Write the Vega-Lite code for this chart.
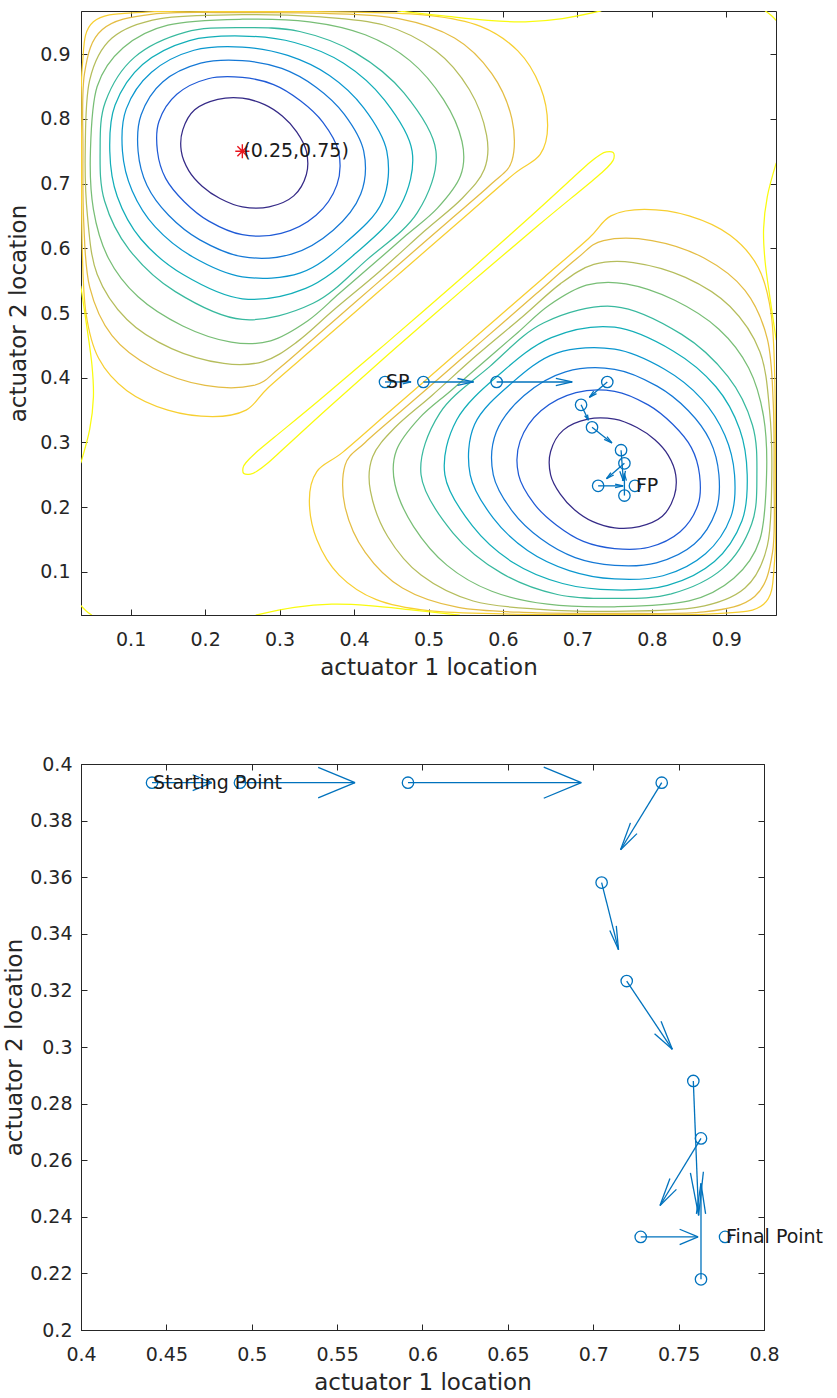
{
  "$schema": "https://vega.github.io/schema/vega-lite/v6.json",
  "background": "white",
  "padding": {"left": 3, "top": 10, "right": 0, "bottom": 0},
  "spacing": 74,
  "config": {
    "font": "DejaVu Sans",
    "view": {"stroke": "#262626", "strokeWidth": 1},
    "axis": {
      "grid": false, "domainColor": "#262626", "tickColor": "#262626",
      "labelColor": "#262626", "titleColor": "#262626",
      "labelFont": "DejaVu Sans", "titleFont": "DejaVu Sans",
      "labelFontSize": 19, "titleFontSize": 23, "titleFontWeight": "normal",
      "tickSize": -6, "labelFlush": false, "labelOverlap": false
    },
    "axisBottom": {"labelPadding": 21, "titlePadding": 7},
    "axisLeft": {"labelPadding": 17, "titlePadding": 9}
  },
  "datasets": {
    "closed": [
      {"id":"a1","l":1,"k":0,"x":0.186,"y":0.814},{"id":"a1","l":1,"k":1,"x":0.217,"y":0.830},{"id":"a1","l":1,"k":2,"x":0.250,"y":0.832},{"id":"a1","l":1,"k":3,"x":0.280,"y":0.822},{"id":"a1","l":1,"k":4,"x":0.304,"y":0.804},{"id":"a1","l":1,"k":5,"x":0.323,"y":0.780},{"id":"a1","l":1,"k":6,"x":0.336,"y":0.750},{"id":"a1","l":1,"k":7,"x":0.336,"y":0.714},{"id":"a1","l":1,"k":8,"x":0.319,"y":0.681},{"id":"a1","l":1,"k":9,"x":0.286,"y":0.664},{"id":"a1","l":1,"k":10,"x":0.250,"y":0.664},{"id":"a1","l":1,"k":11,"x":0.220,"y":0.677},{"id":"a1","l":1,"k":12,"x":0.196,"y":0.696},{"id":"a1","l":1,"k":13,"x":0.178,"y":0.720},{"id":"a1","l":1,"k":14,"x":0.168,"y":0.750},{"id":"a1","l":1,"k":15,"x":0.170,"y":0.783},
      {"id":"b1","l":1,"k":0,"x":0.814,"y":0.186},{"id":"b1","l":1,"k":1,"x":0.783,"y":0.170},{"id":"b1","l":1,"k":2,"x":0.750,"y":0.168},{"id":"b1","l":1,"k":3,"x":0.720,"y":0.178},{"id":"b1","l":1,"k":4,"x":0.696,"y":0.196},{"id":"b1","l":1,"k":5,"x":0.677,"y":0.220},{"id":"b1","l":1,"k":6,"x":0.664,"y":0.250},{"id":"b1","l":1,"k":7,"x":0.664,"y":0.286},{"id":"b1","l":1,"k":8,"x":0.681,"y":0.319},{"id":"b1","l":1,"k":9,"x":0.714,"y":0.336},{"id":"b1","l":1,"k":10,"x":0.750,"y":0.336},{"id":"b1","l":1,"k":11,"x":0.780,"y":0.323},{"id":"b1","l":1,"k":12,"x":0.804,"y":0.304},{"id":"b1","l":1,"k":13,"x":0.822,"y":0.280},{"id":"b1","l":1,"k":14,"x":0.832,"y":0.250},{"id":"b1","l":1,"k":15,"x":0.830,"y":0.217},
      {"id":"a2","l":2,"k":0,"x":0.162,"y":0.838},{"id":"a2","l":2,"k":1,"x":0.204,"y":0.862},{"id":"a2","l":2,"k":2,"x":0.250,"y":0.864},{"id":"a2","l":2,"k":3,"x":0.292,"y":0.853},{"id":"a2","l":2,"k":4,"x":0.328,"y":0.828},{"id":"a2","l":2,"k":5,"x":0.358,"y":0.795},{"id":"a2","l":2,"k":6,"x":0.379,"y":0.750},{"id":"a2","l":2,"k":7,"x":0.377,"y":0.698},{"id":"a2","l":2,"k":8,"x":0.349,"y":0.651},{"id":"a2","l":2,"k":9,"x":0.302,"y":0.623},{"id":"a2","l":2,"k":10,"x":0.250,"y":0.621},{"id":"a2","l":2,"k":11,"x":0.205,"y":0.642},{"id":"a2","l":2,"k":12,"x":0.172,"y":0.672},{"id":"a2","l":2,"k":13,"x":0.147,"y":0.708},{"id":"a2","l":2,"k":14,"x":0.136,"y":0.750},{"id":"a2","l":2,"k":15,"x":0.138,"y":0.796},
      {"id":"b2","l":2,"k":0,"x":0.838,"y":0.162},{"id":"b2","l":2,"k":1,"x":0.796,"y":0.138},{"id":"b2","l":2,"k":2,"x":0.750,"y":0.136},{"id":"b2","l":2,"k":3,"x":0.708,"y":0.147},{"id":"b2","l":2,"k":4,"x":0.672,"y":0.172},{"id":"b2","l":2,"k":5,"x":0.642,"y":0.205},{"id":"b2","l":2,"k":6,"x":0.621,"y":0.250},{"id":"b2","l":2,"k":7,"x":0.623,"y":0.302},{"id":"b2","l":2,"k":8,"x":0.651,"y":0.349},{"id":"b2","l":2,"k":9,"x":0.698,"y":0.377},{"id":"b2","l":2,"k":10,"x":0.750,"y":0.379},{"id":"b2","l":2,"k":11,"x":0.795,"y":0.358},{"id":"b2","l":2,"k":12,"x":0.828,"y":0.328},{"id":"b2","l":2,"k":13,"x":0.853,"y":0.292},{"id":"b2","l":2,"k":14,"x":0.864,"y":0.250},{"id":"b2","l":2,"k":15,"x":0.862,"y":0.204},
      {"id":"a3","l":3,"k":0,"x":0.143,"y":0.857},{"id":"a3","l":3,"k":1,"x":0.194,"y":0.886},{"id":"a3","l":3,"k":2,"x":0.250,"y":0.890},{"id":"a3","l":3,"k":3,"x":0.303,"y":0.878},{"id":"a3","l":3,"k":4,"x":0.349,"y":0.849},{"id":"a3","l":3,"k":5,"x":0.387,"y":0.807},{"id":"a3","l":3,"k":6,"x":0.413,"y":0.750},{"id":"a3","l":3,"k":7,"x":0.409,"y":0.684},{"id":"a3","l":3,"k":8,"x":0.372,"y":0.628},{"id":"a3","l":3,"k":9,"x":0.316,"y":0.591},{"id":"a3","l":3,"k":10,"x":0.250,"y":0.587},{"id":"a3","l":3,"k":11,"x":0.193,"y":0.613},{"id":"a3","l":3,"k":12,"x":0.151,"y":0.651},{"id":"a3","l":3,"k":13,"x":0.122,"y":0.697},{"id":"a3","l":3,"k":14,"x":0.110,"y":0.750},{"id":"a3","l":3,"k":15,"x":0.114,"y":0.806},
      {"id":"b3","l":3,"k":0,"x":0.857,"y":0.143},{"id":"b3","l":3,"k":1,"x":0.806,"y":0.114},{"id":"b3","l":3,"k":2,"x":0.750,"y":0.110},{"id":"b3","l":3,"k":3,"x":0.697,"y":0.122},{"id":"b3","l":3,"k":4,"x":0.651,"y":0.151},{"id":"b3","l":3,"k":5,"x":0.613,"y":0.193},{"id":"b3","l":3,"k":6,"x":0.587,"y":0.250},{"id":"b3","l":3,"k":7,"x":0.591,"y":0.316},{"id":"b3","l":3,"k":8,"x":0.628,"y":0.372},{"id":"b3","l":3,"k":9,"x":0.684,"y":0.409},{"id":"b3","l":3,"k":10,"x":0.750,"y":0.413},{"id":"b3","l":3,"k":11,"x":0.807,"y":0.387},{"id":"b3","l":3,"k":12,"x":0.849,"y":0.349},{"id":"b3","l":3,"k":13,"x":0.878,"y":0.303},{"id":"b3","l":3,"k":14,"x":0.890,"y":0.250},{"id":"b3","l":3,"k":15,"x":0.886,"y":0.194},
      {"id":"a4","l":4,"k":0,"x":0.128,"y":0.872},{"id":"a4","l":4,"k":1,"x":0.185,"y":0.906},{"id":"a4","l":4,"k":2,"x":0.250,"y":0.911},{"id":"a4","l":4,"k":3,"x":0.311,"y":0.898},{"id":"a4","l":4,"k":4,"x":0.367,"y":0.867},{"id":"a4","l":4,"k":5,"x":0.413,"y":0.817},{"id":"a4","l":4,"k":6,"x":0.444,"y":0.750},{"id":"a4","l":4,"k":7,"x":0.438,"y":0.672},{"id":"a4","l":4,"k":8,"x":0.390,"y":0.610},{"id":"a4","l":4,"k":9,"x":0.328,"y":0.562},{"id":"a4","l":4,"k":10,"x":0.250,"y":0.556},{"id":"a4","l":4,"k":11,"x":0.183,"y":0.587},{"id":"a4","l":4,"k":12,"x":0.133,"y":0.633},{"id":"a4","l":4,"k":13,"x":0.102,"y":0.689},{"id":"a4","l":4,"k":14,"x":0.089,"y":0.750},{"id":"a4","l":4,"k":15,"x":0.094,"y":0.815},
      {"id":"b4","l":4,"k":0,"x":0.872,"y":0.128},{"id":"b4","l":4,"k":1,"x":0.815,"y":0.094},{"id":"b4","l":4,"k":2,"x":0.750,"y":0.089},{"id":"b4","l":4,"k":3,"x":0.689,"y":0.102},{"id":"b4","l":4,"k":4,"x":0.633,"y":0.133},{"id":"b4","l":4,"k":5,"x":0.587,"y":0.183},{"id":"b4","l":4,"k":6,"x":0.556,"y":0.250},{"id":"b4","l":4,"k":7,"x":0.562,"y":0.328},{"id":"b4","l":4,"k":8,"x":0.610,"y":0.390},{"id":"b4","l":4,"k":9,"x":0.672,"y":0.438},{"id":"b4","l":4,"k":10,"x":0.750,"y":0.444},{"id":"b4","l":4,"k":11,"x":0.817,"y":0.413},{"id":"b4","l":4,"k":12,"x":0.867,"y":0.367},{"id":"b4","l":4,"k":13,"x":0.898,"y":0.311},{"id":"b4","l":4,"k":14,"x":0.911,"y":0.250},{"id":"b4","l":4,"k":15,"x":0.906,"y":0.185},
      {"id":"a5","l":5,"k":0,"x":0.116,"y":0.884},{"id":"a5","l":5,"k":1,"x":0.179,"y":0.921},{"id":"a5","l":5,"k":2,"x":0.250,"y":0.928},{"id":"a5","l":5,"k":3,"x":0.320,"y":0.918},{"id":"a5","l":5,"k":4,"x":0.386,"y":0.886},{"id":"a5","l":5,"k":5,"x":0.441,"y":0.829},{"id":"a5","l":5,"k":6,"x":0.478,"y":0.750},{"id":"a5","l":5,"k":7,"x":0.462,"y":0.665},{"id":"a5","l":5,"k":8,"x":0.405,"y":0.595},{"id":"a5","l":5,"k":9,"x":0.335,"y":0.538},{"id":"a5","l":5,"k":10,"x":0.250,"y":0.522},{"id":"a5","l":5,"k":11,"x":0.171,"y":0.559},{"id":"a5","l":5,"k":12,"x":0.114,"y":0.614},{"id":"a5","l":5,"k":13,"x":0.082,"y":0.680},{"id":"a5","l":5,"k":14,"x":0.072,"y":0.750},{"id":"a5","l":5,"k":15,"x":0.079,"y":0.821},
      {"id":"b5","l":5,"k":0,"x":0.884,"y":0.116},{"id":"b5","l":5,"k":1,"x":0.821,"y":0.079},{"id":"b5","l":5,"k":2,"x":0.750,"y":0.072},{"id":"b5","l":5,"k":3,"x":0.680,"y":0.082},{"id":"b5","l":5,"k":4,"x":0.614,"y":0.114},{"id":"b5","l":5,"k":5,"x":0.559,"y":0.171},{"id":"b5","l":5,"k":6,"x":0.522,"y":0.250},{"id":"b5","l":5,"k":7,"x":0.538,"y":0.335},{"id":"b5","l":5,"k":8,"x":0.595,"y":0.405},{"id":"b5","l":5,"k":9,"x":0.665,"y":0.462},{"id":"b5","l":5,"k":10,"x":0.750,"y":0.478},{"id":"b5","l":5,"k":11,"x":0.829,"y":0.441},{"id":"b5","l":5,"k":12,"x":0.886,"y":0.386},{"id":"b5","l":5,"k":13,"x":0.918,"y":0.320},{"id":"b5","l":5,"k":14,"x":0.928,"y":0.250},{"id":"b5","l":5,"k":15,"x":0.921,"y":0.179},
      {"id":"a6","l":6,"k":0,"x":0.105,"y":0.895},{"id":"a6","l":6,"k":1,"x":0.174,"y":0.934},{"id":"a6","l":6,"k":2,"x":0.250,"y":0.941},{"id":"a6","l":6,"k":3,"x":0.327,"y":0.935},{"id":"a6","l":6,"k":4,"x":0.402,"y":0.902},{"id":"a6","l":6,"k":5,"x":0.467,"y":0.840},{"id":"a6","l":6,"k":6,"x":0.510,"y":0.750},{"id":"a6","l":6,"k":7,"x":0.485,"y":0.655},{"id":"a6","l":6,"k":8,"x":0.4175,"y":0.5825},{"id":"a6","l":6,"k":9,"x":0.345,"y":0.515},{"id":"a6","l":6,"k":10,"x":0.250,"y":0.490},{"id":"a6","l":6,"k":11,"x":0.160,"y":0.533},{"id":"a6","l":6,"k":12,"x":0.098,"y":0.598},{"id":"a6","l":6,"k":13,"x":0.065,"y":0.673},{"id":"a6","l":6,"k":14,"x":0.059,"y":0.750},{"id":"a6","l":6,"k":15,"x":0.066,"y":0.826},
      {"id":"b6","l":6,"k":0,"x":0.895,"y":0.105},{"id":"b6","l":6,"k":1,"x":0.826,"y":0.066},{"id":"b6","l":6,"k":2,"x":0.750,"y":0.059},{"id":"b6","l":6,"k":3,"x":0.673,"y":0.065},{"id":"b6","l":6,"k":4,"x":0.598,"y":0.098},{"id":"b6","l":6,"k":5,"x":0.533,"y":0.160},{"id":"b6","l":6,"k":6,"x":0.490,"y":0.250},{"id":"b6","l":6,"k":7,"x":0.515,"y":0.345},{"id":"b6","l":6,"k":8,"x":0.5825,"y":0.4175},{"id":"b6","l":6,"k":9,"x":0.655,"y":0.485},{"id":"b6","l":6,"k":10,"x":0.750,"y":0.510},{"id":"b6","l":6,"k":11,"x":0.840,"y":0.467},{"id":"b6","l":6,"k":12,"x":0.902,"y":0.402},{"id":"b6","l":6,"k":13,"x":0.935,"y":0.327},{"id":"b6","l":6,"k":14,"x":0.941,"y":0.250},{"id":"b6","l":6,"k":15,"x":0.934,"y":0.174},
      {"id":"a7","l":7,"k":0,"x":0.090,"y":0.910},{"id":"a7","l":7,"k":1,"x":0.150,"y":0.945},{"id":"a7","l":7,"k":2,"x":0.250,"y":0.954},{"id":"a7","l":7,"k":3,"x":0.340,"y":0.950},{"id":"a7","l":7,"k":4,"x":0.415,"y":0.930},{"id":"a7","l":7,"k":5,"x":0.475,"y":0.890},{"id":"a7","l":7,"k":6,"x":0.520,"y":0.830},{"id":"a7","l":7,"k":7,"x":0.545,"y":0.765},{"id":"a7","l":7,"k":8,"x":0.543,"y":0.712},{"id":"a7","l":7,"k":9,"x":0.512,"y":0.662},{"id":"a7","l":7,"k":10,"x":0.470,"y":0.620},{"id":"a7","l":7,"k":11,"x":0.425,"y":0.575},{"id":"a7","l":7,"k":12,"x":0.380,"y":0.530},{"id":"a7","l":7,"k":13,"x":0.338,"y":0.488},{"id":"a7","l":7,"k":14,"x":0.288,"y":0.457},{"id":"a7","l":7,"k":15,"x":0.235,"y":0.455},{"id":"a7","l":7,"k":16,"x":0.170,"y":0.480},{"id":"a7","l":7,"k":17,"x":0.110,"y":0.525},{"id":"a7","l":7,"k":18,"x":0.070,"y":0.585},{"id":"a7","l":7,"k":19,"x":0.050,"y":0.660},{"id":"a7","l":7,"k":20,"x":0.046,"y":0.750},{"id":"a7","l":7,"k":21,"x":0.055,"y":0.850},
      {"id":"b7","l":7,"k":0,"x":0.910,"y":0.090},{"id":"b7","l":7,"k":1,"x":0.850,"y":0.055},{"id":"b7","l":7,"k":2,"x":0.750,"y":0.046},{"id":"b7","l":7,"k":3,"x":0.660,"y":0.050},{"id":"b7","l":7,"k":4,"x":0.585,"y":0.070},{"id":"b7","l":7,"k":5,"x":0.525,"y":0.110},{"id":"b7","l":7,"k":6,"x":0.480,"y":0.170},{"id":"b7","l":7,"k":7,"x":0.455,"y":0.235},{"id":"b7","l":7,"k":8,"x":0.457,"y":0.288},{"id":"b7","l":7,"k":9,"x":0.488,"y":0.338},{"id":"b7","l":7,"k":10,"x":0.530,"y":0.380},{"id":"b7","l":7,"k":11,"x":0.575,"y":0.425},{"id":"b7","l":7,"k":12,"x":0.620,"y":0.470},{"id":"b7","l":7,"k":13,"x":0.662,"y":0.512},{"id":"b7","l":7,"k":14,"x":0.712,"y":0.543},{"id":"b7","l":7,"k":15,"x":0.765,"y":0.545},{"id":"b7","l":7,"k":16,"x":0.830,"y":0.520},{"id":"b7","l":7,"k":17,"x":0.890,"y":0.475},{"id":"b7","l":7,"k":18,"x":0.930,"y":0.415},{"id":"b7","l":7,"k":19,"x":0.950,"y":0.340},{"id":"b7","l":7,"k":20,"x":0.954,"y":0.250},{"id":"b7","l":7,"k":21,"x":0.945,"y":0.150},
      {"id":"a8","l":8,"k":0,"x":0.075,"y":0.925},{"id":"a8","l":8,"k":1,"x":0.140,"y":0.955},{"id":"a8","l":8,"k":2,"x":0.250,"y":0.961},{"id":"a8","l":8,"k":3,"x":0.350,"y":0.958},{"id":"a8","l":8,"k":4,"x":0.440,"y":0.945},{"id":"a8","l":8,"k":5,"x":0.510,"y":0.905},{"id":"a8","l":8,"k":6,"x":0.555,"y":0.845},{"id":"a8","l":8,"k":7,"x":0.578,"y":0.775},{"id":"a8","l":8,"k":8,"x":0.575,"y":0.722},{"id":"a8","l":8,"k":9,"x":0.545,"y":0.677},{"id":"a8","l":8,"k":10,"x":0.495,"y":0.627},{"id":"a8","l":8,"k":11,"x":0.435,"y":0.565},{"id":"a8","l":8,"k":12,"x":0.373,"y":0.505},{"id":"a8","l":8,"k":13,"x":0.323,"y":0.455},{"id":"a8","l":8,"k":14,"x":0.278,"y":0.425},{"id":"a8","l":8,"k":15,"x":0.225,"y":0.422},{"id":"a8","l":8,"k":16,"x":0.155,"y":0.445},{"id":"a8","l":8,"k":17,"x":0.095,"y":0.490},{"id":"a8","l":8,"k":18,"x":0.055,"y":0.560},{"id":"a8","l":8,"k":19,"x":0.042,"y":0.650},{"id":"a8","l":8,"k":20,"x":0.039,"y":0.750},{"id":"a8","l":8,"k":21,"x":0.045,"y":0.860},
      {"id":"b8","l":8,"k":0,"x":0.925,"y":0.075},{"id":"b8","l":8,"k":1,"x":0.860,"y":0.045},{"id":"b8","l":8,"k":2,"x":0.750,"y":0.039},{"id":"b8","l":8,"k":3,"x":0.650,"y":0.042},{"id":"b8","l":8,"k":4,"x":0.560,"y":0.055},{"id":"b8","l":8,"k":5,"x":0.490,"y":0.095},{"id":"b8","l":8,"k":6,"x":0.445,"y":0.155},{"id":"b8","l":8,"k":7,"x":0.422,"y":0.225},{"id":"b8","l":8,"k":8,"x":0.425,"y":0.278},{"id":"b8","l":8,"k":9,"x":0.455,"y":0.323},{"id":"b8","l":8,"k":10,"x":0.505,"y":0.373},{"id":"b8","l":8,"k":11,"x":0.565,"y":0.435},{"id":"b8","l":8,"k":12,"x":0.627,"y":0.495},{"id":"b8","l":8,"k":13,"x":0.677,"y":0.545},{"id":"b8","l":8,"k":14,"x":0.722,"y":0.575},{"id":"b8","l":8,"k":15,"x":0.775,"y":0.578},{"id":"b8","l":8,"k":16,"x":0.845,"y":0.555},{"id":"b8","l":8,"k":17,"x":0.905,"y":0.510},{"id":"b8","l":8,"k":18,"x":0.945,"y":0.440},{"id":"b8","l":8,"k":19,"x":0.958,"y":0.350},{"id":"b8","l":8,"k":20,"x":0.961,"y":0.250},{"id":"b8","l":8,"k":21,"x":0.955,"y":0.140},
      {"id":"a9","l":9,"k":0,"x":0.062,"y":0.938},{"id":"a9","l":9,"k":1,"x":0.130,"y":0.962},{"id":"a9","l":9,"k":2,"x":0.250,"y":0.964},{"id":"a9","l":9,"k":3,"x":0.360,"y":0.963},{"id":"a9","l":9,"k":4,"x":0.460,"y":0.955},{"id":"a9","l":9,"k":5,"x":0.535,"y":0.925},{"id":"a9","l":9,"k":6,"x":0.585,"y":0.870},{"id":"a9","l":9,"k":7,"x":0.612,"y":0.800},{"id":"a9","l":9,"k":8,"x":0.612,"y":0.735},{"id":"a9","l":9,"k":9,"x":0.585,"y":0.700},{"id":"a9","l":9,"k":10,"x":0.530,"y":0.645},{"id":"a9","l":9,"k":11,"x":0.485,"y":0.600},{"id":"a9","l":9,"k":12,"x":0.4425,"y":0.5575},{"id":"a9","l":9,"k":13,"x":0.400,"y":0.515},{"id":"a9","l":9,"k":14,"x":0.355,"y":0.470},{"id":"a9","l":9,"k":15,"x":0.300,"y":0.415},{"id":"a9","l":9,"k":16,"x":0.265,"y":0.388},{"id":"a9","l":9,"k":17,"x":0.200,"y":0.388},{"id":"a9","l":9,"k":18,"x":0.130,"y":0.415},{"id":"a9","l":9,"k":19,"x":0.075,"y":0.465},{"id":"a9","l":9,"k":20,"x":0.045,"y":0.540},{"id":"a9","l":9,"k":21,"x":0.037,"y":0.640},{"id":"a9","l":9,"k":22,"x":0.036,"y":0.750},{"id":"a9","l":9,"k":23,"x":0.038,"y":0.870},
      {"id":"b9","l":9,"k":0,"x":0.938,"y":0.062},{"id":"b9","l":9,"k":1,"x":0.870,"y":0.038},{"id":"b9","l":9,"k":2,"x":0.750,"y":0.036},{"id":"b9","l":9,"k":3,"x":0.640,"y":0.037},{"id":"b9","l":9,"k":4,"x":0.540,"y":0.045},{"id":"b9","l":9,"k":5,"x":0.465,"y":0.075},{"id":"b9","l":9,"k":6,"x":0.415,"y":0.130},{"id":"b9","l":9,"k":7,"x":0.388,"y":0.200},{"id":"b9","l":9,"k":8,"x":0.388,"y":0.265},{"id":"b9","l":9,"k":9,"x":0.415,"y":0.300},{"id":"b9","l":9,"k":10,"x":0.470,"y":0.355},{"id":"b9","l":9,"k":11,"x":0.515,"y":0.400},{"id":"b9","l":9,"k":12,"x":0.5575,"y":0.4425},{"id":"b9","l":9,"k":13,"x":0.600,"y":0.485},{"id":"b9","l":9,"k":14,"x":0.645,"y":0.530},{"id":"b9","l":9,"k":15,"x":0.700,"y":0.585},{"id":"b9","l":9,"k":16,"x":0.735,"y":0.612},{"id":"b9","l":9,"k":17,"x":0.800,"y":0.612},{"id":"b9","l":9,"k":18,"x":0.870,"y":0.585},{"id":"b9","l":9,"k":19,"x":0.925,"y":0.535},{"id":"b9","l":9,"k":20,"x":0.955,"y":0.460},{"id":"b9","l":9,"k":21,"x":0.963,"y":0.360},{"id":"b9","l":9,"k":22,"x":0.964,"y":0.250},{"id":"b9","l":9,"k":23,"x":0.962,"y":0.130},
      {"id":"a10","l":10,"k":0,"x":0.050,"y":0.950},{"id":"a10","l":10,"k":1,"x":0.120,"y":0.965},{"id":"a10","l":10,"k":2,"x":0.250,"y":0.966},{"id":"a10","l":10,"k":3,"x":0.400,"y":0.965},{"id":"a10","l":10,"k":4,"x":0.500,"y":0.960},{"id":"a10","l":10,"k":5,"x":0.570,"y":0.943},{"id":"a10","l":10,"k":6,"x":0.620,"y":0.905},{"id":"a10","l":10,"k":7,"x":0.650,"y":0.850},{"id":"a10","l":10,"k":8,"x":0.660,"y":0.790},{"id":"a10","l":10,"k":9,"x":0.650,"y":0.745},{"id":"a10","l":10,"k":10,"x":0.615,"y":0.715},{"id":"a10","l":10,"k":11,"x":0.555,"y":0.655},{"id":"a10","l":10,"k":12,"x":0.500,"y":0.600},{"id":"a10","l":10,"k":13,"x":0.450,"y":0.550},{"id":"a10","l":10,"k":14,"x":0.400,"y":0.500},{"id":"a10","l":10,"k":15,"x":0.345,"y":0.445},{"id":"a10","l":10,"k":16,"x":0.285,"y":0.385},{"id":"a10","l":10,"k":17,"x":0.255,"y":0.350},{"id":"a10","l":10,"k":18,"x":0.210,"y":0.340},{"id":"a10","l":10,"k":19,"x":0.150,"y":0.350},{"id":"a10","l":10,"k":20,"x":0.095,"y":0.380},{"id":"a10","l":10,"k":21,"x":0.057,"y":0.430},{"id":"a10","l":10,"k":22,"x":0.040,"y":0.500},{"id":"a10","l":10,"k":23,"x":0.035,"y":0.600},{"id":"a10","l":10,"k":24,"x":0.034,"y":0.750},{"id":"a10","l":10,"k":25,"x":0.035,"y":0.880},
      {"id":"b10","l":10,"k":0,"x":0.950,"y":0.050},{"id":"b10","l":10,"k":1,"x":0.880,"y":0.035},{"id":"b10","l":10,"k":2,"x":0.750,"y":0.034},{"id":"b10","l":10,"k":3,"x":0.600,"y":0.035},{"id":"b10","l":10,"k":4,"x":0.500,"y":0.040},{"id":"b10","l":10,"k":5,"x":0.430,"y":0.057},{"id":"b10","l":10,"k":6,"x":0.380,"y":0.095},{"id":"b10","l":10,"k":7,"x":0.350,"y":0.150},{"id":"b10","l":10,"k":8,"x":0.340,"y":0.210},{"id":"b10","l":10,"k":9,"x":0.350,"y":0.255},{"id":"b10","l":10,"k":10,"x":0.385,"y":0.285},{"id":"b10","l":10,"k":11,"x":0.445,"y":0.345},{"id":"b10","l":10,"k":12,"x":0.500,"y":0.400},{"id":"b10","l":10,"k":13,"x":0.550,"y":0.450},{"id":"b10","l":10,"k":14,"x":0.600,"y":0.500},{"id":"b10","l":10,"k":15,"x":0.655,"y":0.555},{"id":"b10","l":10,"k":16,"x":0.715,"y":0.615},{"id":"b10","l":10,"k":17,"x":0.745,"y":0.650},{"id":"b10","l":10,"k":18,"x":0.790,"y":0.660},{"id":"b10","l":10,"k":19,"x":0.850,"y":0.650},{"id":"b10","l":10,"k":20,"x":0.905,"y":0.620},{"id":"b10","l":10,"k":21,"x":0.943,"y":0.570},{"id":"b10","l":10,"k":22,"x":0.960,"y":0.500},{"id":"b10","l":10,"k":23,"x":0.965,"y":0.400},{"id":"b10","l":10,"k":24,"x":0.966,"y":0.250},{"id":"b10","l":10,"k":25,"x":0.965,"y":0.120},
      {"id":"tg","l":11,"k":0,"x":0.252,"y":0.252},{"id":"tg","l":11,"k":1,"x":0.251,"y":0.261},{"id":"tg","l":11,"k":2,"x":0.255,"y":0.269},{"id":"tg","l":11,"k":3,"x":0.267,"y":0.283},{"id":"tg","l":11,"k":4,"x":0.2925,"y":0.3075},{"id":"tg","l":11,"k":5,"x":0.354,"y":0.366},{"id":"tg","l":11,"k":6,"x":0.445,"y":0.455},{"id":"tg","l":11,"k":7,"x":0.545,"y":0.555},{"id":"tg","l":11,"k":8,"x":0.634,"y":0.646},{"id":"tg","l":11,"k":9,"x":0.6925,"y":0.7075},{"id":"tg","l":11,"k":10,"x":0.717,"y":0.733},{"id":"tg","l":11,"k":11,"x":0.731,"y":0.745},{"id":"tg","l":11,"k":12,"x":0.739,"y":0.749},{"id":"tg","l":11,"k":13,"x":0.748,"y":0.748},{"id":"tg","l":11,"k":14,"x":0.749,"y":0.739},{"id":"tg","l":11,"k":15,"x":0.745,"y":0.731},{"id":"tg","l":11,"k":16,"x":0.733,"y":0.717},{"id":"tg","l":11,"k":17,"x":0.7075,"y":0.6925},{"id":"tg","l":11,"k":18,"x":0.646,"y":0.634},{"id":"tg","l":11,"k":19,"x":0.555,"y":0.545},{"id":"tg","l":11,"k":20,"x":0.455,"y":0.445},{"id":"tg","l":11,"k":21,"x":0.366,"y":0.354},{"id":"tg","l":11,"k":22,"x":0.3075,"y":0.2925},{"id":"tg","l":11,"k":23,"x":0.283,"y":0.267},{"id":"tg","l":11,"k":24,"x":0.269,"y":0.255},{"id":"tg","l":11,"k":25,"x":0.261,"y":0.251}
    ],
    "open": [
      {"id":"o1","l":11,"k":0,"x":0.458,"y":0.967},{"id":"o1","l":11,"k":1,"x":0.520,"y":0.959},{"id":"o1","l":11,"k":2,"x":0.580,"y":0.952},{"id":"o1","l":11,"k":3,"x":0.630,"y":0.950},{"id":"o1","l":11,"k":4,"x":0.680,"y":0.955},{"id":"o1","l":11,"k":5,"x":0.732,"y":0.967},
      {"id":"o2","l":11,"k":0,"x":0.033,"y":0.542},{"id":"o2","l":11,"k":1,"x":0.041,"y":0.480},{"id":"o2","l":11,"k":2,"x":0.048,"y":0.420},{"id":"o2","l":11,"k":3,"x":0.050,"y":0.370},{"id":"o2","l":11,"k":4,"x":0.045,"y":0.320},{"id":"o2","l":11,"k":5,"x":0.033,"y":0.268},
      {"id":"o3","l":11,"k":0,"x":0.542,"y":0.033},{"id":"o3","l":11,"k":1,"x":0.480,"y":0.041},{"id":"o3","l":11,"k":2,"x":0.420,"y":0.048},{"id":"o3","l":11,"k":3,"x":0.370,"y":0.050},{"id":"o3","l":11,"k":4,"x":0.320,"y":0.045},{"id":"o3","l":11,"k":5,"x":0.268,"y":0.033},
      {"id":"o4","l":11,"k":0,"x":0.967,"y":0.458},{"id":"o4","l":11,"k":1,"x":0.959,"y":0.520},{"id":"o4","l":11,"k":2,"x":0.952,"y":0.580},{"id":"o4","l":11,"k":3,"x":0.950,"y":0.630},{"id":"o4","l":11,"k":4,"x":0.955,"y":0.680},{"id":"o4","l":11,"k":5,"x":0.967,"y":0.732},
      {"id":"o5","l":11,"k":0,"x":0.033,"y":0.048},{"id":"o5","l":11,"k":1,"x":0.040,"y":0.040},{"id":"o5","l":11,"k":2,"x":0.048,"y":0.033},
      {"id":"o6","l":11,"k":0,"x":0.967,"y":0.952},{"id":"o6","l":11,"k":1,"x":0.960,"y":0.960},{"id":"o6","l":11,"k":2,"x":0.952,"y":0.967}
    ],
    "path": [
      {"x":0.4416,"y":0.3934},{"x":0.4931,"y":0.3934},{"x":0.5915,"y":0.3934},{"x":0.7401,"y":0.3934},{"x":0.7049,"y":0.3581},{"x":0.7196,"y":0.3233},{"x":0.7586,"y":0.2880},{"x":0.7631,"y":0.2179},{"x":0.7631,"y":0.2677},{"x":0.7278,"y":0.2329},{"x":0.7772,"y":0.2329}
    ],
    "arrows": [
      {"x":0.4416,"y":0.3934,"x2":0.4766,"y2":0.3934},
      {"x":0.4931,"y":0.3934,"x2":0.5605,"y2":0.3934},
      {"x":0.5915,"y":0.3934,"x2":0.6930,"y2":0.3934},
      {"x":0.7401,"y":0.3934,"x2":0.7160,"y2":0.3697},
      {"x":0.7049,"y":0.3581,"x2":0.7148,"y2":0.3344},
      {"x":0.7196,"y":0.3233,"x2":0.7463,"y2":0.2992},
      {"x":0.7586,"y":0.2880,"x2":0.7617,"y2":0.2405},
      {"x":0.7631,"y":0.2179,"x2":0.7631,"y2":0.2518},
      {"x":0.7631,"y":0.2677,"x2":0.7391,"y2":0.2440},
      {"x":0.7278,"y":0.2329,"x2":0.7614,"y2":0.2329},
      {"x":0.4766,"y":0.3934,"x2":0.4654,"y2":0.3962},{"x":0.4766,"y":0.3934,"x2":0.4654,"y2":0.3906},
      {"x":0.5605,"y":0.3934,"x2":0.5389,"y2":0.3988},{"x":0.5605,"y":0.3934,"x2":0.5389,"y2":0.3880},
      {"x":0.6930,"y":0.3934,"x2":0.6710,"y2":0.3989},{"x":0.6930,"y":0.3934,"x2":0.6710,"y2":0.3879},
      {"x":0.7160,"y":0.3697,"x2":0.7256,"y2":0.3754},{"x":0.7160,"y":0.3697,"x2":0.7218,"y2":0.3792},
      {"x":0.7148,"y":0.3344,"x2":0.7135,"y2":0.3428},{"x":0.7148,"y":0.3344,"x2":0.7097,"y2":0.3412},
      {"x":0.7463,"y":0.2992,"x2":0.7397,"y2":0.3091},{"x":0.7463,"y":0.2992,"x2":0.7359,"y2":0.3047},
      {"x":0.7617,"y":0.2405,"x2":0.7645,"y2":0.2559},{"x":0.7617,"y":0.2405,"x2":0.7569,"y2":0.2555},
      {"x":0.7631,"y":0.2518,"x2":0.7658,"y2":0.2410},{"x":0.7631,"y":0.2518,"x2":0.7604,"y2":0.2410},
      {"x":0.7391,"y":0.2440,"x2":0.7487,"y2":0.2497},{"x":0.7391,"y":0.2440,"x2":0.7449,"y2":0.2535},
      {"x":0.7614,"y":0.2329,"x2":0.7506,"y2":0.2356},{"x":0.7614,"y":0.2329,"x2":0.7506,"y2":0.2302}
    ],
    "minimum": [{"x":0.25,"y":0.75,"t":"(0.25,0.75)"}],
    "topLabels": [{"x":0.4416,"y":0.3934,"t":"SP"},{"x":0.7772,"y":0.2329,"t":"FP"}],
    "bottomLabels": [{"x":0.4416,"y":0.3934,"t":"Starting Point"},{"x":0.7772,"y":0.2329,"t":"Final Point"}]
  },
  "vconcat": [
    {
      "width": 695,
      "height": 604,
      "resolve": {"axis": {"x": "independent", "y": "independent"}},
      "layer": [
        {
          "data": {"name": "closed"},
          "mark": {"type": "line", "interpolate": "cardinal-closed", "strokeWidth": 1.25, "clip": true},
          "encoding": {
            "x": {"field": "x", "type": "quantitative", "scale": {"domain": [0.03333, 0.96667], "nice": false, "zero": false}, "axis": null},
            "y": {"field": "y", "type": "quantitative", "scale": {"domain": [0.03333, 0.96667], "nice": false, "zero": false}, "axis": null},
            "detail": {"field": "id"},
            "order": {"field": "k", "type": "quantitative"},
            "color": {"field": "l", "type": "ordinal", "legend": null,
              "scale": {"domain": [1,2,3,4,5,6,7,8,9,10,11], "range": ["#352a87","#1f5ad6","#1478d6","#0a97cf","#12aeb8","#38b99e","#78be76","#b5bd5c","#e4bd44","#f7cf31","#f9fb0e"]}}
          }
        },
        {
          "data": {"name": "open"},
          "mark": {"type": "line", "interpolate": "cardinal", "strokeWidth": 1.25, "clip": true},
          "encoding": {
            "x": {"field": "x", "type": "quantitative", "scale": {"domain": [0.03333, 0.96667], "nice": false, "zero": false}, "axis": null},
            "y": {"field": "y", "type": "quantitative", "scale": {"domain": [0.03333, 0.96667], "nice": false, "zero": false}, "axis": null},
            "detail": {"field": "id"},
            "order": {"field": "k", "type": "quantitative"},
            "color": {"value": "#f9fb0e"}
          }
        },
        {
          "data": {"name": "arrows"},
          "mark": {"type": "rule", "color": "#0072bd", "strokeWidth": 1.3},
          "encoding": {
            "x": {"field": "x", "type": "quantitative", "axis": null},
            "y": {"field": "y", "type": "quantitative", "axis": null},
            "x2": {"field": "x2"},
            "y2": {"field": "y2"}
          }
        },
        {
          "data": {"name": "path"},
          "mark": {"type": "point", "shape": "circle", "filled": false, "color": "#0072bd", "size": 130, "strokeWidth": 1.3, "opacity": 1},
          "encoding": {
            "x": {"field": "x", "type": "quantitative", "title": "actuator 1 location",
              "axis": {"values": [0.1,0.2,0.3,0.4,0.5,0.6,0.7,0.8,0.9], "format": "~g"}},
            "y": {"field": "y", "type": "quantitative", "title": "actuator 2 location",
              "axis": {"values": [0.1,0.2,0.3,0.4,0.5,0.6,0.7,0.8,0.9], "format": "~g"}}
          }
        },
        {
          "data": {"name": "minimum"},
          "mark": {"type": "point", "shape": "M-1,0L1,0M0,-1L0,1M-0.7,-0.7L0.7,0.7M-0.7,0.7L0.7,-0.7", "filled": false, "color": "#e8141c", "size": 200, "strokeWidth": 1.4, "opacity": 1},
          "encoding": {
            "x": {"field": "x", "type": "quantitative", "axis": {"orient": "top", "values": [0.1,0.2,0.3,0.4,0.5,0.6,0.7,0.8,0.9], "labels": false, "domain": false, "title": null}},
            "y": {"field": "y", "type": "quantitative", "axis": {"orient": "right", "values": [0.1,0.2,0.3,0.4,0.5,0.6,0.7,0.8,0.9], "labels": false, "domain": false, "title": null}}
          }
        },
        {
          "data": {"name": "minimum"},
          "mark": {"type": "text", "align": "left", "baseline": "middle", "dx": 1, "fontSize": 19, "color": "#1a1a1a"},
          "encoding": {
            "x": {"field": "x", "type": "quantitative", "axis": null},
            "y": {"field": "y", "type": "quantitative", "axis": null},
            "text": {"field": "t"}
          }
        },
        {
          "data": {"name": "topLabels"},
          "mark": {"type": "text", "align": "left", "baseline": "middle", "dx": 1, "fontSize": 19, "color": "#1a1a1a"},
          "encoding": {
            "x": {"field": "x", "type": "quantitative", "axis": null},
            "y": {"field": "y", "type": "quantitative", "axis": null},
            "text": {"field": "t"}
          }
        }
      ]
    },
    {
      "width": 683,
      "height": 566,
      "resolve": {"axis": {"x": "independent", "y": "independent"}},
      "layer": [
        {
          "data": {"name": "arrows"},
          "mark": {"type": "rule", "color": "#0072bd", "strokeWidth": 1.3},
          "encoding": {
            "x": {"field": "x", "type": "quantitative", "scale": {"domain": [0.4, 0.8], "nice": false, "zero": false}, "axis": null},
            "y": {"field": "y", "type": "quantitative", "scale": {"domain": [0.2, 0.4], "nice": false, "zero": false}, "axis": null},
            "x2": {"field": "x2"},
            "y2": {"field": "y2"}
          }
        },
        {
          "data": {"name": "path"},
          "mark": {"type": "point", "shape": "circle", "filled": false, "color": "#0072bd", "size": 130, "strokeWidth": 1.3, "opacity": 1},
          "encoding": {
            "x": {"field": "x", "type": "quantitative", "scale": {"domain": [0.4, 0.8], "nice": false, "zero": false}, "title": "actuator 1 location",
              "axis": {"values": [0.4,0.45,0.5,0.55,0.6,0.65,0.7,0.75,0.8], "format": "~g"}},
            "y": {"field": "y", "type": "quantitative", "scale": {"domain": [0.2, 0.4], "nice": false, "zero": false}, "title": "actuator 2 location",
              "axis": {"values": [0.2,0.22,0.24,0.26,0.28,0.3,0.32,0.34,0.36,0.38,0.4], "format": "~g", "labelPadding": 15, "titlePadding": 3}}
          }
        },
        {
          "data": {"name": "path"},
          "mark": {"type": "point", "opacity": 0},
          "encoding": {
            "x": {"field": "x", "type": "quantitative", "axis": {"orient": "top", "values": [0.4,0.45,0.5,0.55,0.6,0.65,0.7,0.75,0.8], "labels": false, "domain": false, "title": null}},
            "y": {"field": "y", "type": "quantitative", "axis": {"orient": "right", "values": [0.2,0.22,0.24,0.26,0.28,0.3,0.32,0.34,0.36,0.38,0.4], "labels": false, "domain": false, "title": null}}
          }
        },
        {
          "data": {"name": "bottomLabels"},
          "mark": {"type": "text", "align": "left", "baseline": "middle", "dx": 1, "fontSize": 19, "color": "#1a1a1a"},
          "encoding": {
            "x": {"field": "x", "type": "quantitative", "axis": null},
            "y": {"field": "y", "type": "quantitative", "axis": null},
            "text": {"field": "t"}
          }
        }
      ]
    }
  ]
}
